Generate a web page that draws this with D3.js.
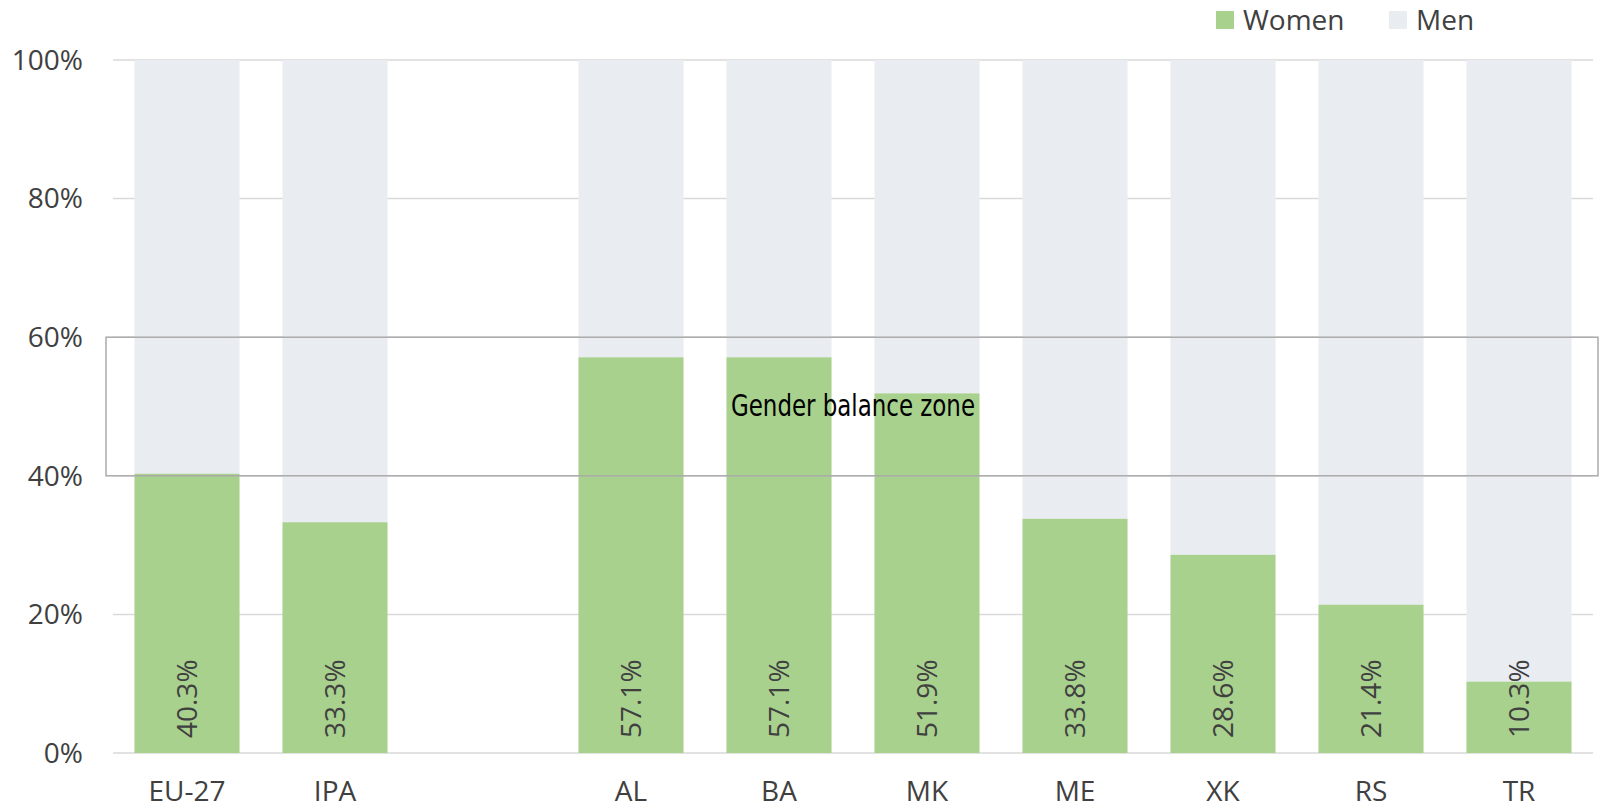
<!DOCTYPE html>
<html lang="en">
<head>
    <meta charset="UTF-8">
    <script src="https://cdn.jsdelivr.net/npm/d3@7"></script>
    <title>Gender balance</title>
    <style>
        body { margin: 0; background: #fff; }
        text { font-family: "Open Sans", sans-serif; }
    </style>
</head>
<body>
    <svg width="1600" height="809"></svg>

<script>
    // data
    var categories = ["EU-27", "IPA", "", "AL", "BA", "MK", "ME", "XK", "RS", "TR"];
    var women = [40.3, 33.3, null, 57.1, 57.1, 51.9, 33.8, 28.6, 21.4, 10.3];
    var yTicks = [0, 20, 40, 60, 80, 100];
    var zone = [40, 60];

    // plot box (note: "top" is taken by window.top, so use other names)
    var plotL = 113, plotR = 1593, plotT = 60, plotB = 753;
    var green = "#a9d18e", grey = "#e9ecf1", textCol = "#404040";

    var svg = d3.select("svg");

    var x = d3.scaleBand()
        .domain(d3.range(categories.length))
        .range([plotL, plotR])
        .paddingInner(0.29)
        .paddingOuter(0.145);

    var y = d3.scaleLinear().domain([0, 100]).range([plotB, plotT]);

    // gridlines
    svg.append("g").selectAll("line")
        .data(yTicks)
        .enter()
        .append("line")
        .attr("x1", plotL).attr("x2", plotR)
        .attr("y1", function(d){ return y(d); })
        .attr("y2", function(d){ return y(d); })
        .style("stroke", "#d9d9d9")
        .style("stroke-width", 1.5);

    // y tick labels
    svg.append("g").selectAll("text")
        .data(yTicks)
        .enter()
        .append("text")
        .attr("x", 83)
        .attr("y", function(d){ return y(d); })
        .attr("dy", "0.35em")
        .attr("text-anchor", "end")
        .style("font-size", "28px")
        .style("fill", textCol)
        .text(function(d){ return d + "%"; });

    var rows = categories.map(function(c, i){ return { name: c, i: i, w: women[i] }; })
        .filter(function(d){ return d.w != null; });

    // men (fills the rest up to 100%)
    svg.append("g").selectAll("rect")
        .data(rows)
        .enter()
        .append("rect")
        .attr("x", function(d){ return x(d.i); })
        .attr("width", x.bandwidth())
        .attr("y", y(100))
        .attr("height", function(d){ return y(d.w) - y(100); })
        .attr("fill", grey);

    // women
    svg.append("g").selectAll("rect")
        .data(rows)
        .enter()
        .append("rect")
        .attr("x", function(d){ return x(d.i); })
        .attr("width", x.bandwidth())
        .attr("y", function(d){ return y(d.w); })
        .attr("height", function(d){ return y(0) - y(d.w); })
        .attr("fill", green);

    // value labels, rotated
    svg.append("g").selectAll("text")
        .data(rows)
        .enter()
        .append("text")
        .attr("transform", function(d){
            return "translate(" + (x(d.i) + x.bandwidth() / 2) + "," + (plotB - 15) + ") rotate(-90)";
        })
        .attr("dy", "0.35em")
        .attr("text-anchor", "start")
        .style("font-size", "28px")
        .style("fill", textCol)
        .text(function(d){ return d.w.toFixed(1) + "%"; });

    // x labels
    svg.append("g").selectAll("text")
        .data(rows)
        .enter()
        .append("text")
        .attr("x", function(d){ return x(d.i) + x.bandwidth() / 2; })
        .attr("y", 801)
        .attr("text-anchor", "middle")
        .style("font-size", "28px")
        .style("fill", textCol)
        .text(function(d){ return d.name; });

    // gender balance zone
    svg.append("rect")
        .attr("x", 106)
        .attr("y", y(zone[1]))
        .attr("width", 1598 - 106)
        .attr("height", y(zone[0]) - y(zone[1]))
        .attr("fill", "none")
        .style("stroke", "#ababab")
        .style("stroke-width", 1.5);

    svg.append("text")
        .attr("x", (plotL + plotR) / 2)
        .attr("y", 416)
        .attr("text-anchor", "middle")
        .attr("textLength", 244)
        .attr("lengthAdjust", "spacingAndGlyphs")
        .style("font-family", "'Liberation Sans Narrow', 'DejaVu Sans Condensed', sans-serif")
        .style("font-size", "30px")
        .style("fill", "#000")
        .text("Gender balance zone");

    // legend
    var legend = [{ name: "Women", color: green, x: 1216 }, { name: "Men", color: grey, x: 1389 }];
    var lg = svg.append("g").selectAll("g")
        .data(legend)
        .enter()
        .append("g")
        .attr("transform", function(d){ return "translate(" + d.x + ",11)"; });
    lg.append("rect").attr("width", 18).attr("height", 18).attr("fill", function(d){ return d.color; });
    lg.append("text")
        .attr("x", 27)
        .attr("y", 9)
        .attr("dy", "0.35em")
        .style("font-size", "28px")
        .style("fill", textCol)
        .text(function(d){ return d.name; });
</script>
</body>
</html>
